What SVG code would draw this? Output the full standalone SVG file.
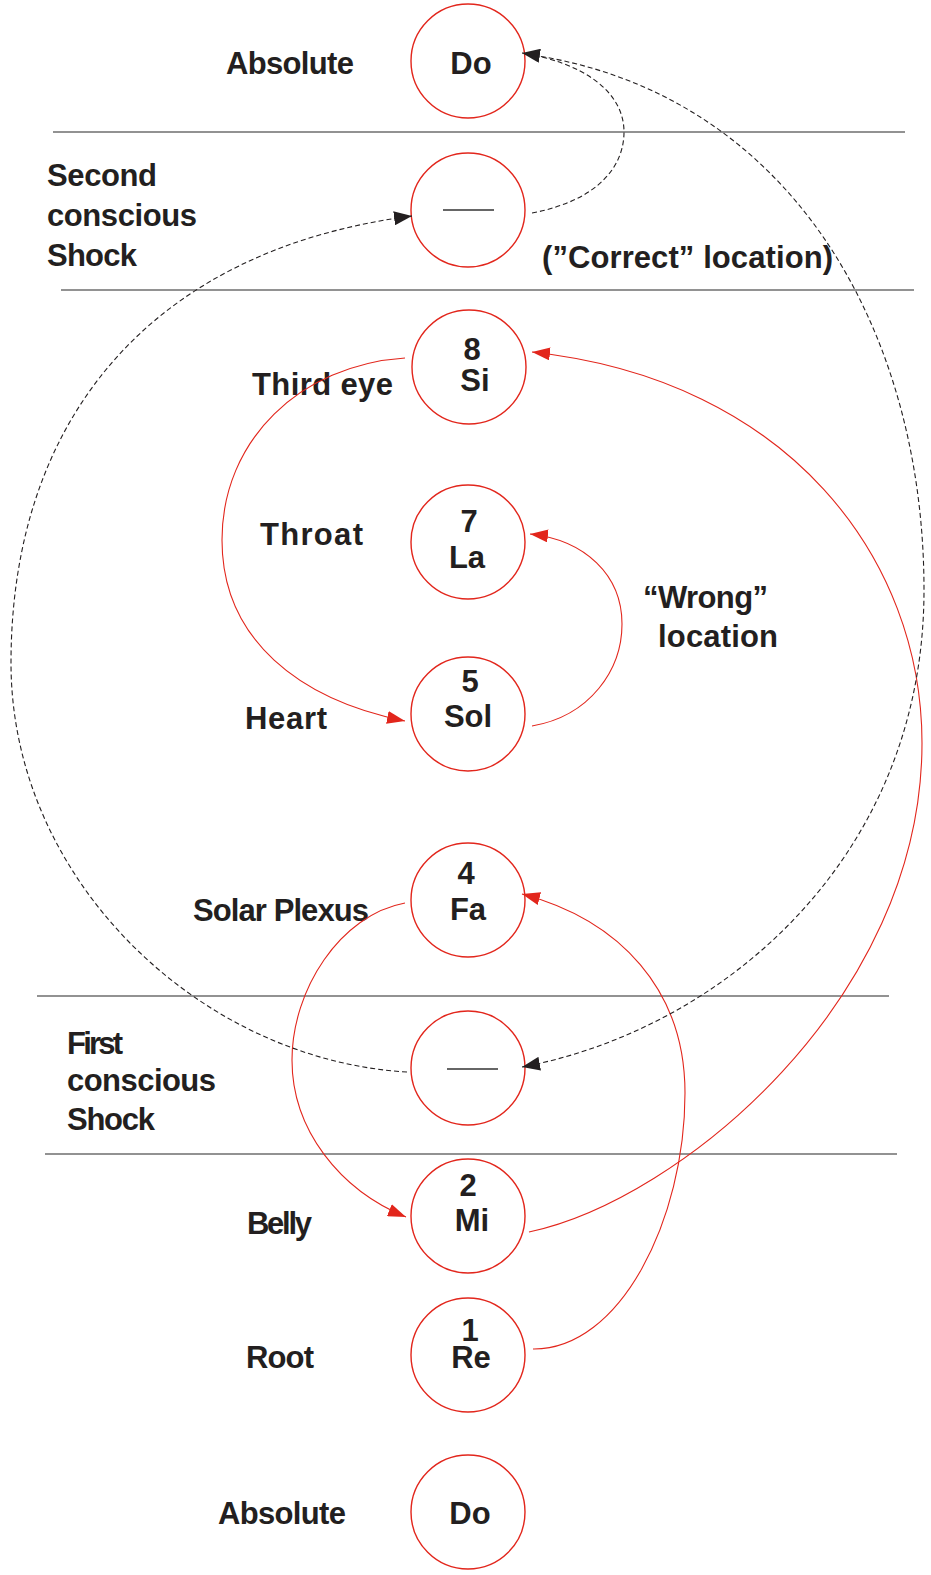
<svg xmlns="http://www.w3.org/2000/svg" width="931" height="1575" viewBox="0 0 931 1575">
<style>
.bg{fill:#ffffff}
.node{fill:none;stroke:#e2261c;stroke-width:1.4}
.t{font-family:"Liberation Sans",Arial,sans-serif;font-weight:bold;font-size:31px;fill:#231f20}
.c{text-anchor:middle}
.sep{stroke:#6e6e6e;stroke-width:1.5;fill:none}
.dash{stroke:#666;stroke-width:2}
.red{fill:none;stroke:#e2261c;stroke-width:1.1}
.blk{fill:none;stroke:#231f20;stroke-width:1.1;stroke-dasharray:5 3}
</style>
<defs>
<marker id="ar" markerUnits="userSpaceOnUse" markerWidth="18" markerHeight="13" viewBox="0 0 18 13" refX="18" refY="6.5" orient="auto">
<path d="M0,0 L18,6.5 L0,13 z" fill="#e2261c"/>
</marker>
<marker id="ab" markerUnits="userSpaceOnUse" markerWidth="18" markerHeight="14" viewBox="0 0 18 14" refX="18" refY="7" orient="auto">
<path d="M0,0 L18,7 L0,14 z" fill="#231f20"/>
</marker>
</defs>
<rect class="bg" x="0" y="0" width="931" height="1575"/>

<g id="separators">
<line class="sep" x1="53" y1="132" x2="905" y2="132"/>
<line class="sep" x1="61" y1="290" x2="914" y2="290"/>
<line class="sep" x1="37" y1="996" x2="889" y2="996"/>
<line class="sep" x1="45" y1="1154" x2="897" y2="1154"/>
</g>

<g id="labels">
<text class="t" x="226" y="74" textLength="128">Absolute</text>
<text class="t" x="47" y="186" textLength="110">Second</text>
<text class="t" x="47" y="226" textLength="150">conscious</text>
<text class="t" x="47" y="266" textLength="90">Shock</text>
<text class="t" x="542" y="268" textLength="291">(”Correct” location)</text>
<text class="t" x="252" y="395" textLength="141">Third eye</text>
<text class="t" x="260" y="545" textLength="103">Throat</text>
<text class="t" x="245" y="729" textLength="82">Heart</text>
<text class="t" x="643" y="608" textLength="125">“Wrong”</text>
<text class="t" x="658" y="647" textLength="120">location</text>
<text class="t" x="193" y="921" textLength="176">Solar Plexus</text>
<text class="t" x="67" y="1054" textLength="56">First</text>
<text class="t" x="67" y="1091" textLength="149">conscious</text>
<text class="t" x="67" y="1130" textLength="88">Shock</text>
<text class="t" x="247" y="1234" textLength="65">Belly</text>
<text class="t" x="246" y="1368" textLength="68">Root</text>
<text class="t" x="218" y="1524" textLength="128">Absolute</text>
</g>

<g id="node-do-top">
<circle class="node" cx="468" cy="61" r="57"/>
<text class="t c" x="471" y="74">Do</text>
</g>
<g id="node-shock2">
<circle class="node" cx="468" cy="210" r="57"/>
<line class="dash" x1="443" y1="210" x2="494" y2="210"/>
</g>
<g id="node-si">
<circle class="node" cx="469" cy="367" r="57"/>
<text class="t c" x="472" y="360">8</text>
<text class="t c" x="475" y="391">Si</text>
</g>
<g id="node-la">
<circle class="node" cx="468" cy="542" r="57"/>
<text class="t c" x="469" y="532">7</text>
<text class="t c" x="467" y="568">La</text>
</g>
<g id="node-sol">
<circle class="node" cx="468" cy="714" r="57"/>
<text class="t c" x="470" y="692">5</text>
<text class="t c" x="468" y="727">Sol</text>
</g>
<g id="node-fa">
<circle class="node" cx="468" cy="900" r="57"/>
<text class="t c" x="466" y="884">4</text>
<text class="t c" x="468" y="920">Fa</text>
</g>
<g id="node-shock1">
<circle class="node" cx="468" cy="1068" r="57"/>
<line class="dash" x1="447" y1="1069" x2="498" y2="1069"/>
</g>
<g id="node-mi">
<circle class="node" cx="468" cy="1216" r="57"/>
<text class="t c" x="468" y="1196">2</text>
<text class="t c" x="472" y="1231">Mi</text>
</g>
<g id="node-re">
<circle class="node" cx="468" cy="1355" r="57"/>
<text class="t c" x="470" y="1341">1</text>
<text class="t c" x="471" y="1368">Re</text>
</g>
<g id="node-do-bottom">
<circle class="node" cx="468" cy="1512" r="57"/>
<text class="t c" x="470" y="1524">Do</text>
</g>

<g id="connectors">
<path class="red" marker-end="url(#ar)" d="M405,358 C300,365 222,440 222,540 C222,640 300,700 405,721"/>
<path class="red" marker-end="url(#ar)" d="M532,726 C590,716 622,670 622,624 C622,575 585,540 530,534"/>
<path class="red" marker-end="url(#ar)" d="M529,1232 C680,1200 922,1000 922,743 C922,560 790,380 532,352"/>
<path class="red" marker-end="url(#ar)" d="M405,903 C340,915 292,990 292,1060 C292,1130 340,1190 406,1217"/>
<path class="red" marker-end="url(#ar)" d="M533,1349 C620,1350 685,1220 685,1093 C685,990 620,920 522,894"/>
<path class="blk" marker-end="url(#ab)" d="M532,213 C600,200 624,165 624,132 C624,90 580,62 522,53"/>
<path class="blk" marker-end="url(#ab)" d="M525,54 C790,90 924,330 924,590 C924,860 720,1030 522,1067"/>
<path class="blk" marker-end="url(#ab)" d="M407,1072 C200,1060 11,880 11,663 C11,420 150,250 412,216"/>
</g>
</svg>
